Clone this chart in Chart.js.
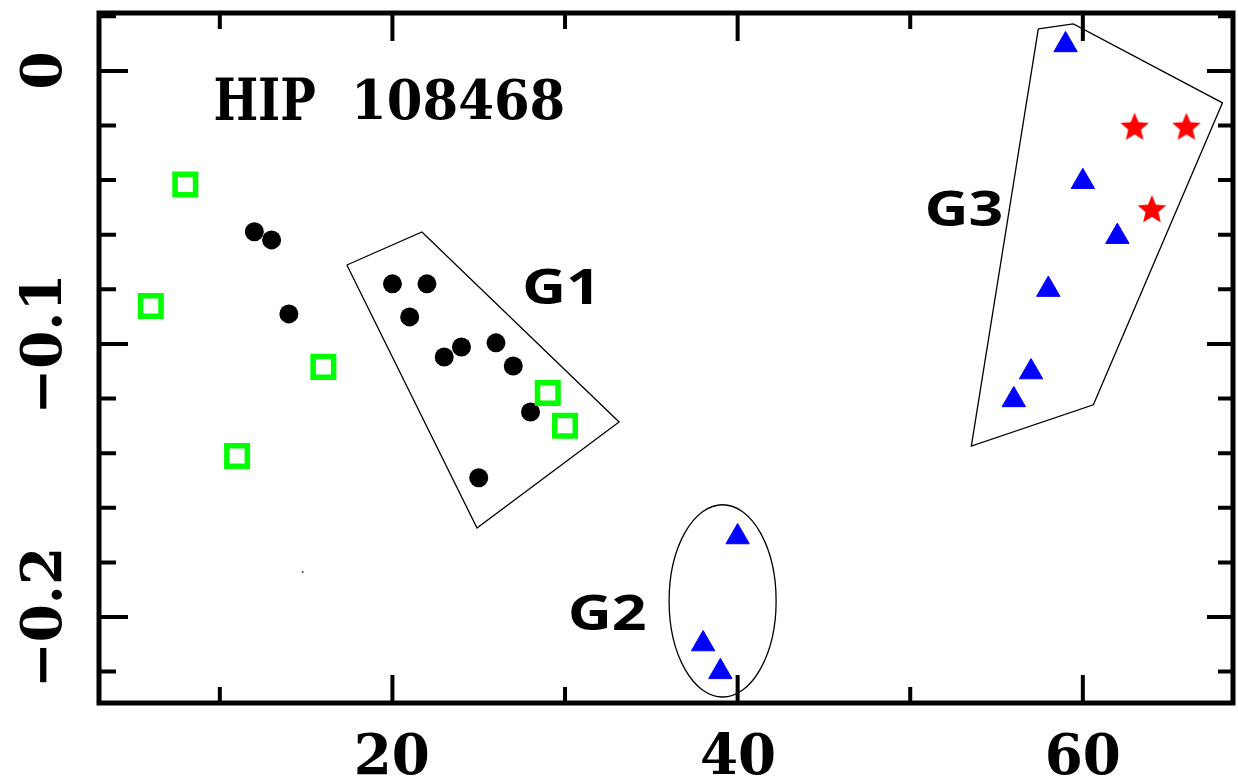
<!DOCTYPE html>
<html>
<head>
<meta charset="utf-8">
<script src="https://cdn.jsdelivr.net/npm/chart.js@4.4.1/dist/chart.umd.min.js"></script>
<style>
html, body { margin: 0; padding: 0; background: #ffffff; }
#wrap { width: 1238px; height: 783px; }
</style>
</head>
<body>
<div id="wrap"><canvas id="chart" width="1238" height="783"></canvas></div>
<script>
// Open green squares
const squareX = [6, 8, 11, 16, 29, 30];
const squareY = [-0.0861, -0.0416, -0.1410, -0.1084, -0.1180, -0.1300];
// Filled black circles
const circleX = [12, 13, 14, 20, 21, 22, 23, 24, 25, 26, 27, 28];
const circleY = [-0.0589, -0.0619, -0.0890, -0.0780, -0.0901, -0.0780, -0.1048, -0.1011, -0.1490, -0.0996, -0.1081, -0.1249];
// Blue triangles (groups G2 and G3)
const triangleX = [38, 39, 40, 56, 57, 58, 59, 60, 62];
const triangleY = [-0.2099, -0.2201, -0.1707, -0.1205, -0.1103, -0.0801, 0.0095, -0.0406, -0.0607];
// Red stars
const starX = [63, 64, 66];
const starY = [-0.0208, -0.0510, -0.0208];
// Lone dot
const dotX = [14.8];
const dotY = [-0.1835];

// Group outlines (closed polygons)
const g1OutlineX = [17.36, 21.71, 33.13, 24.90, 17.36];
const g1OutlineY = [-0.0711, -0.0590, -0.1286, -0.1674, -0.0711];
const g3OutlineX = [57.42, 59.45, 68.09, 60.61, 53.54, 57.42];
const g3OutlineY = [0.0154, 0.0172, -0.0117, -0.1223, -0.1374, 0.0154];
// G2 ellipse: centre x, centre y, half-width, half-height
const g2Ellipse = [39.13, -0.1941, 3.10, 0.0352];

// Axis ticks and their labels
const xMajorTicks = [20, 40, 60];
const xMinorTicks = [10, 30, 50];
const xTickLabels = ['20', '40', '60'];
const yMajorTicks = [0, -0.1, -0.2];
const yMinorTicks = [0.02, -0.02, -0.04, -0.06, -0.08, -0.12, -0.14, -0.16, -0.18, -0.22];
const yTickLabels = ['0', '\u22120.1', '\u22120.2'];

// Text annotations
const groupNames = ['G1', 'G2', 'G3'];
const groupNameX = [29.59, 32.46, 53.13];
const groupNameY = [-0.0788, -0.1982, -0.0502];
const titleText = 'HIP 108468';
const titleX = 19.8;
const titleY = -0.0104;

const pts = (xs, ys) => xs.map((x, i) => ({ x: x, y: ys[i] }));

function makeStar(R, ratio, color) {
  const s = Math.ceil(R * 2 + 2);
  const c = document.createElement('canvas');
  c.width = s; c.height = s;
  const g = c.getContext('2d');
  g.translate(s / 2, s / 2);
  g.beginPath();
  for (let i = 0; i < 10; i++) {
    const r = i % 2 ? R * ratio : R;
    const a = -Math.PI / 2 + i * Math.PI / 5;
    g.lineTo(r * Math.cos(a), r * Math.sin(a));
  }
  g.closePath();
  g.fillStyle = color;
  g.fill();
  return c;
}
const starImage = makeStar(15, 0.45, '#ff0000');

// draw text so that its ink box is centred at (cx, cy)
function drawInk(ctx, text, cx, cy, font, sx, sy, rot) {
  ctx.save();
  ctx.font = font;
  ctx.textAlign = 'left';
  ctx.textBaseline = 'alphabetic';
  const m = ctx.measureText(text);
  const l = m.actualBoundingBoxLeft, r = m.actualBoundingBoxRight;
  const a = m.actualBoundingBoxAscent, d = m.actualBoundingBoxDescent;
  ctx.translate(cx, cy);
  ctx.rotate(rot || 0);
  ctx.scale(sx, sy);
  ctx.fillStyle = '#000';
  ctx.fillText(text, -(r - l) / 2, (a - d) / 2);
  ctx.restore();
}
function inkSize(ctx, text, font) {
  ctx.save();
  ctx.font = font;
  const m = ctx.measureText(text);
  ctx.restore();
  return { w: m.actualBoundingBoxLeft + m.actualBoundingBoxRight, h: m.actualBoundingBoxAscent + m.actualBoundingBoxDescent };
}

const framePlugin = {
  id: 'frame',
  afterDatasetsDraw(chart) {
    const ctx = chart.ctx;
    const a = chart.chartArea;
    const xs = chart.scales.x, ys = chart.scales.y;

    // G2 ellipse
    ctx.save();
    ctx.beginPath();
    const ex = xs.getPixelForValue(g2Ellipse[0]);
    const ey = ys.getPixelForValue(g2Ellipse[1]);
    const erx = Math.abs(xs.getPixelForValue(g2Ellipse[0] + g2Ellipse[2]) - ex);
    const ery = Math.abs(ys.getPixelForValue(g2Ellipse[1] + g2Ellipse[3]) - ey);
    ctx.ellipse(ex, ey, erx, ery, 0, 0, Math.PI * 2);
    ctx.lineWidth = 1.3;
    ctx.strokeStyle = '#000';
    ctx.stroke();
    ctx.restore();

    // frame
    ctx.save();
    ctx.strokeStyle = '#000';
    ctx.lineWidth = 5;
    ctx.strokeRect(a.left, a.top, a.right - a.left, a.bottom - a.top);

    // inward ticks on all four sides
    ctx.lineWidth = 4;
    ctx.lineCap = 'butt';
    const xt = (v, len) => {
      const p = xs.getPixelForValue(v);
      ctx.beginPath();
      ctx.moveTo(p, a.bottom); ctx.lineTo(p, a.bottom - len);
      ctx.moveTo(p, a.top); ctx.lineTo(p, a.top + len);
      ctx.stroke();
    };
    const yt = (v, lenL, lenR) => {
      const p = ys.getPixelForValue(v);
      ctx.beginPath();
      ctx.moveTo(a.left, p); ctx.lineTo(a.left + lenL, p);
      ctx.moveTo(a.right, p); ctx.lineTo(a.right - lenR, p);
      ctx.stroke();
    };
    xMajorTicks.forEach(v => xt(v, 28));
    xMinorTicks.forEach(v => xt(v, 16));
    yMajorTicks.forEach(v => yt(v, 29, 26));
    yMinorTicks.forEach(v => yt(v, 17, 15));
    ctx.restore();

    // tick labels
    const tickFont = 'bold 60px "DejaVu Serif"';
    const s20 = inkSize(ctx, '20', tickFont);
    const s0 = inkSize(ctx, '0', tickFont);
    const tsx = 70 / s20.w, tsy = 43 / s0.h;
    xMajorTicks.forEach((v, i) => {
      drawInk(ctx, xTickLabels[i], xs.getPixelForValue(v), a.bottom + 50.5, tickFont, tsx, tsy, 0);
    });
    yMajorTicks.forEach((v, i) => {
      drawInk(ctx, yTickLabels[i], a.left - 59, ys.getPixelForValue(v), tickFont, tsx, tsy, -Math.PI / 2);
    });

    // title, typewriter spacing: each word fitted into its own slot
    const titleFont = 'bold 60px "DejaVu Serif"';
    const words = titleText.split(' ');
    const tcx = xs.getPixelForValue(titleX), tcy = ys.getPixelForValue(titleY);
    const slotW = [100, 206], gap = 42;
    const total = slotW[0] + gap + slotW[1];
    let left = tcx - total / 2;
    words.forEach((w, i) => {
      const sw = inkSize(ctx, w, titleFont);
      drawInk(ctx, w, left + slotW[i] / 2, tcy, titleFont, slotW[i] / sw.w, 42 / sw.h, 0);
      left += slotW[i] + gap;
    });

    // group names
    const gFont = 'bold 48px "Open Sans"';
    const sg = inkSize(ctx, 'G1', gFont);
    const gsx = 67 / sg.w, gsy = 36 / sg.h;
    groupNames.forEach((t, i) => {
      drawInk(ctx, t, xs.getPixelForValue(groupNameX[i]), ys.getPixelForValue(groupNameY[i]), gFont, gsx, gsy, 0);
    });
  }
};

const outlineStyle = {
  showLine: true, borderColor: '#000', borderWidth: 1.3, pointRadius: 0,
  fill: false, tension: 0, backgroundColor: 'rgba(0,0,0,0)'
};

new Chart(document.getElementById('chart'), {
  type: 'scatter',
  data: {
    datasets: [
      Object.assign({ label: 'G1 outline', data: pts(g1OutlineX, g1OutlineY) }, outlineStyle),
      Object.assign({ label: 'G3 outline', data: pts(g3OutlineX, g3OutlineY) }, outlineStyle),
      {
        label: 'squares', data: pts(squareX, squareY), pointStyle: 'rect',
        pointRadius: 14.5, borderColor: '#00ff00', borderWidth: 5.5, backgroundColor: 'rgba(0,0,0,0)'
      },
      {
        label: 'circles', data: pts(circleX, circleY), pointStyle: 'circle',
        pointRadius: 9.5, borderWidth: 0, backgroundColor: '#000'
      },
      {
        label: 'triangles', data: pts(triangleX, triangleY), pointStyle: 'triangle',
        pointRadius: 13.5, borderWidth: 1, borderColor: '#0000ff', backgroundColor: '#0000ff'
      },
      {
        label: 'stars', data: pts(starX, starY), pointStyle: starImage, pointRadius: 15
      },
      {
        label: 'dot', data: pts(dotX, dotY), pointStyle: 'circle',
        pointRadius: 1, borderWidth: 0, backgroundColor: '#444'
      }
    ]
  },
  options: {
    responsive: false,
    animation: false,
    events: [],
    layout: { autoPadding: false, padding: { left: 99, right: 5, top: 13, bottom: 80 } },
    plugins: { legend: { display: false }, tooltip: { enabled: false } },
    scales: {
      x: { type: 'linear', min: 3, max: 68.7, display: false },
      y: { type: 'linear', min: -0.2315, max: 0.0212, display: false }
    }
  },
  plugins: [framePlugin]
});
</script>
</body>
</html>
